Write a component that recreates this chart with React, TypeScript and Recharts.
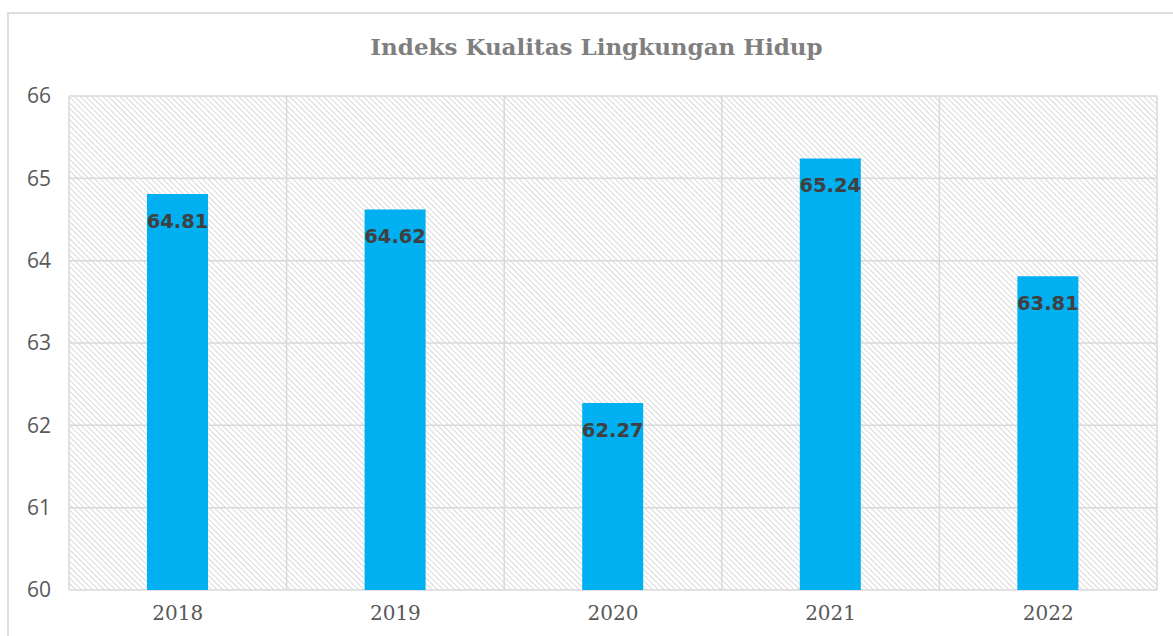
import React from 'react'
import { BarChart, Bar, XAxis, YAxis, CartesianGrid, LabelList } from 'recharts'

const years = ['2018', '2019', '2020', '2021', '2022']
const ikiValues = [64.81, 64.62, 62.27, 65.24, 63.81]
const yTicks = [60, 61, 62, 63, 64, 65, 66]

const data = years.map((year, i) => ({ year, value: ikiValues[i] }))

const W = 1173
const H = 636

export default function App() {
  return (
    <div style={{ position: 'absolute', left: 0, top: 0, width: W, height: H, overflow: 'hidden', background: '#fff' }}>
      <div
        style={{
          position: 'absolute',
          left: 7,
          top: 12,
          width: W,
          height: H,
          border: '2px solid #dedede',
          boxSizing: 'border-box',
        }}
      />
      <div
        style={{
          position: 'absolute',
          left: 0,
          top: 33,
          width: 1193,
          textAlign: 'center',
          fontFamily: '"DejaVu Serif", serif',
          fontWeight: 'bold',
          fontSize: 23,
          color: '#7f7f7f',
        }}
      >
        Indeks Kualitas Lingkungan Hidup
      </div>
      <div style={{ position: 'absolute', left: 0, top: 0 }}>
        <BarChart width={W} height={H} data={data} margin={{ top: 96, right: 16, left: 19, bottom: 16 }}>
          <defs>
            <pattern id="hatch" patternUnits="userSpaceOnUse" width="4" height="4" patternTransform="rotate(-45)">
              <rect width="4" height="4" fill="#ffffff" />
              <line x1="0" y1="0" x2="0" y2="4" stroke="#d0d0d0" strokeWidth="1.6" />
            </pattern>
          </defs>
          <CartesianGrid
            fill="url(#hatch)"
            fillOpacity={1}
            stroke="#d9d9d9"
            strokeWidth={1.5}
            verticalCoordinatesGenerator={({ offset }: any) => {
              const step = offset.width / years.length
              return years.map((_, i) => offset.left + i * step).concat(offset.left + offset.width)
            }}
          />
          <XAxis
            dataKey="year"
            height={30}
            axisLine={false}
            tickLine={false}
            tickMargin={10}
            tick={{ fontSize: 20, fill: '#595959', fontFamily: '"DejaVu Serif", serif' }}
          />
          <YAxis
            domain={[60, 66]}
            ticks={yTicks}
            width={50}
            axisLine={false}
            tickLine={false}
            tickSize={0}
            tickMargin={18}
            tick={{ fontSize: 21, fill: '#595959', fontFamily: '"Open Sans", sans-serif' }}
          />
          <Bar dataKey="value" fill="#00b0f0" barSize={61} isAnimationActive={false}>
            <LabelList
              dataKey="value"
              position="insideTop"
              offset={20}
              style={{ fontSize: 19.5, fontWeight: 'bold', fill: '#404040', fontFamily: '"DejaVu Sans", sans-serif' }}
            />
          </Bar>
        </BarChart>
      </div>
    </div>
  )
}
